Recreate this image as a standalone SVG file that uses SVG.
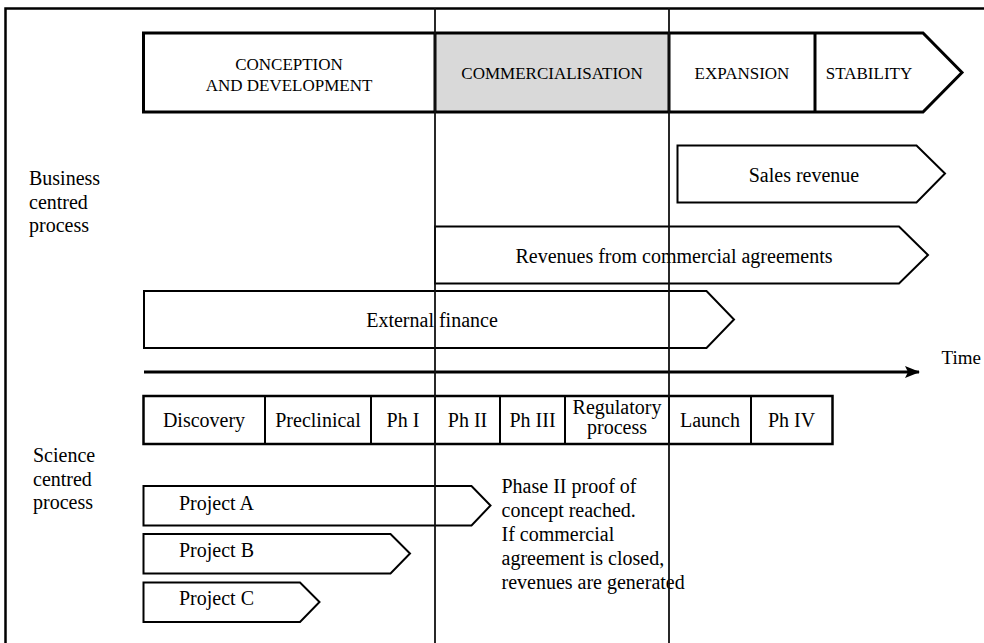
<svg xmlns="http://www.w3.org/2000/svg" width="984" height="643" viewBox="0 0 984 643">
  <style>
    text { font-family: "Liberation Serif", "Times New Roman", serif; fill: #000; }
    .lbl { font-size: 20px; }
    .stage { font-size: 17px; }
    .mid { text-anchor: middle; }
    .box { fill: #fff; stroke: #000; stroke-width: 2; stroke-linejoin: miter; }
    .bar { fill: none; stroke: #000; stroke-width: 3; }
    .guide { stroke: #111; stroke-width: 1.8; fill: none; }
  </style>
  <defs>
    <marker id="timeHead" viewBox="0 0 16 12" refX="14" refY="6" markerWidth="16" markerHeight="12" markerUnits="userSpaceOnUse" orient="auto">
      <polygon points="0,0 15,6 0,12 3,6" fill="#000"/>
    </marker>
  </defs>

  <rect width="984" height="643" fill="#fff"/>

  <!-- page frame (left and top edges) -->
  <path d="M5.5,643 V8.5 H984" fill="none" stroke="#000" stroke-width="2.5"/>

  <!-- life-cycle stage bar -->
  <g id="stages">
    <rect x="435" y="33" width="234" height="79" fill="#d9d9d9"/>
    <polygon class="bar" points="143.5,33 923,33 962,72.5 923,112 143.5,112"/>
    <line class="bar" x1="435" y1="33" x2="435" y2="112"/>
    <line class="bar" x1="669" y1="33" x2="669" y2="112"/>
    <line class="bar" x1="815" y1="33" x2="815" y2="112"/>
    <text class="stage mid" x="289" y="70">CONCEPTION</text>
    <text class="stage mid" x="289" y="90.5">AND DEVELOPMENT</text>
    <text class="stage mid" x="552" y="78.5">COMMERCIALISATION</text>
    <text class="stage mid" x="742" y="78.5">EXPANSION</text>
    <text class="stage mid" x="869" y="78.5">STABILITY</text>
  </g>

  <!-- row headings -->
  <g id="business-heading">
    <text class="lbl" x="29" y="185">Business</text>
    <text class="lbl" x="29" y="209">centred</text>
    <text class="lbl" x="29" y="232">process</text>
  </g>
  <g id="science-heading">
    <text class="lbl" x="33" y="462">Science</text>
    <text class="lbl" x="33" y="485.5">centred</text>
    <text class="lbl" x="33" y="509">process</text>
  </g>

  <!-- business centred flows -->
  <g id="sales-revenue">
    <polygon class="box" points="677.5,145.5 916.5,145.5 945,173.5 916.5,202.5 677.5,202.5"/>
    <text class="lbl mid" x="804" y="182">Sales revenue</text>
  </g>
  <g id="commercial-agreements">
    <polygon class="box" points="435,226.5 899,226.5 928,255 899,283.5 435,283.5"/>
    <text class="lbl mid" x="674" y="262.5">Revenues from commercial agreements</text>
  </g>
  <g id="external-finance">
    <polygon class="box" points="144,291 706.5,291 734,319.5 706.5,348 144,348"/>
    <text class="lbl mid" x="432" y="326.5">External finance</text>
  </g>

  <!-- science centred phases -->
  <g id="phases">
    <rect x="143.5" y="396" width="689" height="48" fill="#fff" stroke="#000" stroke-width="2.5"/>
    <g stroke="#000" stroke-width="2">
      <line x1="265" y1="396" x2="265" y2="444"/>
      <line x1="371" y1="396" x2="371" y2="444"/>
      <line x1="435" y1="396" x2="435" y2="444"/>
      <line x1="500" y1="396" x2="500" y2="444"/>
      <line x1="565" y1="396" x2="565" y2="444"/>
      <line x1="669" y1="396" x2="669" y2="444"/>
      <line x1="751" y1="396" x2="751" y2="444"/>
    </g>
    <text class="lbl mid" x="204" y="427">Discovery</text>
    <text class="lbl mid" x="318" y="427">Preclinical</text>
    <text class="lbl mid" x="403" y="427">Ph I</text>
    <text class="lbl mid" x="467.5" y="427">Ph II</text>
    <text class="lbl mid" x="532.5" y="427">Ph III</text>
    <text class="lbl mid" x="617" y="414">Regulatory</text>
    <text class="lbl mid" x="617" y="434">process</text>
    <text class="lbl mid" x="710" y="427">Launch</text>
    <text class="lbl mid" x="791.5" y="427">Ph IV</text>
  </g>

  <!-- drug projects -->
  <g id="project-a">
    <polygon class="box" points="143.5,486 471.5,486 490.5,505.5 471.5,525.5 143.5,525.5"/>
    <text class="lbl" x="179" y="509.5">Project A</text>
  </g>
  <g id="project-b">
    <polygon class="box" points="143.5,534 390.5,534 410,553.5 390.5,573.5 143.5,573.5"/>
    <text class="lbl" x="179" y="557">Project B</text>
  </g>
  <g id="project-c">
    <polygon class="box" points="143.5,582.5 300,582.5 319.5,602 300,622 143.5,622"/>
    <text class="lbl" x="179" y="605">Project C</text>
  </g>

  <g id="milestone-note">
    <text class="lbl" x="501.5" y="492.5">Phase II proof of</text>
    <text class="lbl" x="501.5" y="516.5">concept reached.</text>
    <text class="lbl" x="501.5" y="540.5">If commercial</text>
    <text class="lbl" x="501.5" y="564.5">agreement is closed,</text>
    <text class="lbl" x="501.5" y="588.5">revenues are generated</text>
  </g>

  <!-- time axis and stage boundaries -->
  <g id="connectors">
    <line x1="144" y1="372" x2="919" y2="372" stroke="#000" stroke-width="3" marker-end="url(#timeHead)"/>
    <line class="guide" x1="435" y1="8" x2="435" y2="643"/>
    <line class="guide" x1="669" y1="8" x2="669" y2="643"/>
  </g>
  <g id="time-label">
    <text x="941.5" y="363.5" style="font-size:19px">Time</text>
  </g>
</svg>
